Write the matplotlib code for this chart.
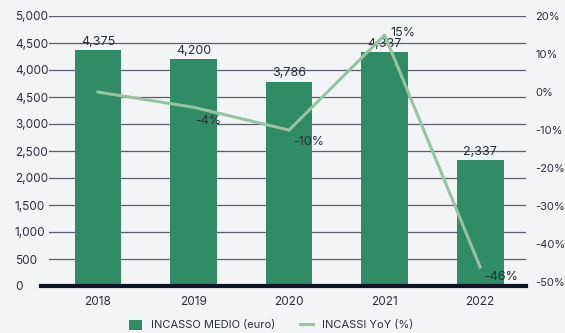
import numpy as np
import matplotlib.pyplot as plt
from matplotlib.lines import Line2D
from matplotlib.patches import Patch

plt.rcParams['font.family'] = ['Inter', 'DejaVu Sans']

# dati
anni = ['2018', '2019', '2020', '2021', '2022']
incasso_medio = [4375, 4200, 3786, 4337, 2337]
incassi_yoy = [0, -4, -10, 15, -46]
yoy_etichette = ['', '-4%', '-10%', '15%', '-46%']
tick_sx = [0, 500, 1000, 1500, 2000, 2500, 3000, 3500, 4000, 4500, 5000]
tick_sx_lbl = ['0', '500', '1,000', '1,500', '2,000', '2,500', '3,000',
               '4,500', '4,000', '4,500', '5,000']
tick_dx = [20, 10, 0, -10, -20, -30, -40, -50]

verde = '#2f8c67'
verde_chiaro = '#96c3a2'
sfondo = '#f3f4f6'
testo = '#2b2f3a'
griglia = '#5a5e6a'

fig = plt.figure(figsize=(5.65, 3.33), dpi=100, facecolor=sfondo)
ax = fig.add_axes([49 / 565, 1 - 286 / 333, 477 / 565, 270 / 333])
ax.set_facecolor(sfondo)

x = np.arange(len(anni))
ax.bar(x, incasso_medio, width=0.49, color=verde, zorder=2)
for xi, v in zip(x, incasso_medio):
    ax.text(xi, v + 40, f'{v:,}', ha='center', va='bottom', fontsize=9, color=testo, zorder=5)

ax.set_xlim(-0.513, 4.48)
ax.set_ylim(0, 5000)
ax.set_yticks(tick_sx)
ax.set_yticklabels(tick_sx_lbl)
ax.set_xticks(x)
ax.set_xticklabels(anni)
ax.grid(axis='y', color=griglia, linewidth=0.9, zorder=0)
ax.tick_params(axis='y', length=0, pad=24.5, labelsize=8.5, labelcolor=testo)
ax.tick_params(axis='x', length=0, pad=7, labelsize=8.5, labelcolor=testo)
for t in ax.get_yticklabels():
    t.set_horizontalalignment('left')
for s in ax.spines.values():
    s.set_visible(False)

# linea di base scura, un po' più lunga a sinistra
ax.add_line(Line2D([-0.017, 1.0], [0, 0], transform=ax.transAxes, color='#111722',
                   linewidth=3, clip_on=False, zorder=4))

# asse destro per la variazione annua
ax2 = ax.twinx()
ax2.plot(x, incassi_yoy, color=verde_chiaro, linewidth=2.2, zorder=3)
ax2.set_ylim(-51, 20)
ax2.set_yticks(tick_dx)
ax2.set_yticklabels([f'{t}%' for t in tick_dx])
ax2.tick_params(axis='y', length=0, pad=6.5, labelsize=8, labelcolor=testo)
for s in ax2.spines.values():
    s.set_visible(False)

offs = [None, (2, -8), (4, -6), (6, 2), (4, -4)]
alli = [None, ('left', 'top'), ('left', 'top'), ('left', 'center'), ('left', 'top')]
for xi, v, lbl, o, a in zip(x, incassi_yoy, yoy_etichette, offs, alli):
    if not lbl:
        continue
    ax2.annotate(lbl, (xi, v), xytext=o, textcoords='offset pixels',
                 ha=a[0], va=a[1], fontsize=9, color=testo, zorder=6)

handles = [Patch(facecolor=verde, edgecolor='none'),
           Line2D([0], [0], color=verde_chiaro, linewidth=2.2)]
fig.legend(handles, ['INCASSO MEDIO (euro)', 'INCASSI YoY (%)'],
           loc='center', bbox_to_anchor=(0.48, 1 - 325 / 333), ncol=2, frameon=False,
           fontsize=8, handlelength=1.2, handleheight=1.0, columnspacing=2.2,
           labelcolor=testo)

fig.savefig('out.png', dpi=100, facecolor=sfondo)
